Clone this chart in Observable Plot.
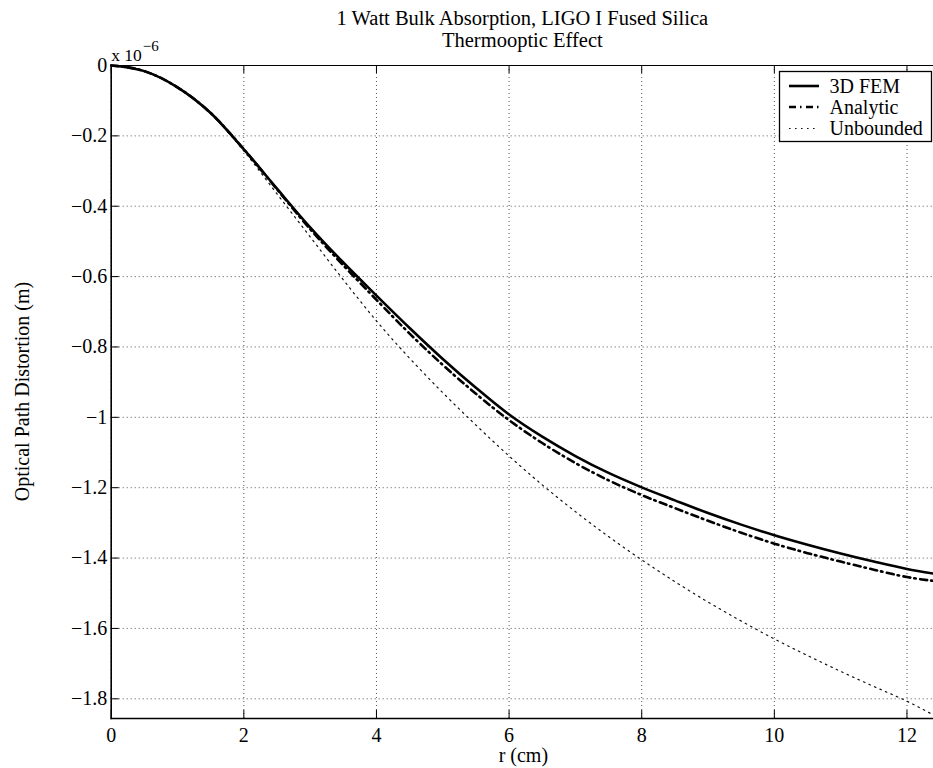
<!DOCTYPE html>
<html>
<head>
<meta charset="utf-8">
<script src="https://cdn.jsdelivr.net/npm/d3@7"></script>
<script src="https://cdn.jsdelivr.net/npm/@observablehq/plot@0.6"></script>
<style>
  html, body { margin: 0; padding: 0; background: #fff; }
  #chart { width: 933px; height: 768px; }
</style>
</head>
<body>
<div id="chart"></div>
<script>
// ---- data (values in units of 1e-6 m) ----
const rValues = [0, 0.5, 1, 1.5, 2, 2.5, 3, 3.5, 4, 4.5, 5, 5.5, 6, 6.5, 7, 7.5, 8, 8.5, 9, 9.5, 10, 10.5, 11, 11.5, 12, 12.4];
const femValues = [0, -0.016, -0.062, -0.135, -0.238, -0.350, -0.460, -0.560, -0.654, -0.746, -0.834, -0.916, -0.992, -1.055, -1.110, -1.158, -1.199, -1.236, -1.272, -1.305, -1.335, -1.362, -1.387, -1.410, -1.431, -1.444];
const analyticValues = [0, -0.016, -0.062, -0.135, -0.238, -0.352, -0.465, -0.568, -0.666, -0.762, -0.851, -0.933, -1.008, -1.073, -1.130, -1.179, -1.221, -1.258, -1.294, -1.328, -1.359, -1.386, -1.410, -1.433, -1.454, -1.465];
const unboundedValues = [0, -0.016, -0.062, -0.137, -0.243, -0.365, -0.487, -0.609, -0.726, -0.832, -0.930, -1.022, -1.110, -1.192, -1.268, -1.339, -1.405, -1.467, -1.525, -1.579, -1.630, -1.677, -1.722, -1.765, -1.807, -1.846];

const seriesNames = ["3D FEM", "Analytic", "Unbounded"];
const xTicks = [0, 2, 4, 6, 8, 10, 12];
const yTicks = [0, -0.2, -0.4, -0.6, -0.8, -1, -1.2, -1.4, -1.6, -1.8];
const xDomain = [0, 12.4];
const yDomain = [-1.856, 0];

const titleLines = ["1 Watt Bulk Absorption, LIGO I Fused Silica", "Thermooptic Effect"];
const xLabel = "r (cm)";
const yLabel = "Optical Path Distortion (m)";
const exponentBase = "x 10";
const exponentPower = "\u22126";

// ---- build tables ----
const fem = rValues.map((r, i) => ({r, v: femValues[i]}));
const analytic = rValues.map((r, i) => ({r, v: analyticValues[i]}));
const unbounded = rValues.map((r, i) => ({r, v: unboundedValues[i]}));

const FONT = "'Liberation Serif', 'Times New Roman', Times, serif";
const FS = 20;
const FS_TITLE = 20.5;

const styles = {
  "3D FEM":    {stroke: "#000", strokeWidth: 2.6, strokeDasharray: null},
  "Analytic":  {stroke: "#000", strokeWidth: 2.6, strokeDasharray: "7,4,1.5,4.5"},
  "Unbounded": {stroke: "#111", strokeWidth: 1.2, strokeDasharray: "1.6,4.4"}
};

const fmtY = d => d === 0 ? "0" : "\u2212" + (+Math.abs(d).toFixed(1));

const W = 933, H = 768;
const mL = 110.7, mR = 0, mT = 65, mB = 50;
const frameW = W - mL - mR, frameH = H - mT - mB;

function legend() {
  const g = d3.create("svg:g");
  const x0 = 779.5, y0 = 71.5, w = 152, h = 70;
  g.append("rect").attr("x", x0).attr("y", y0).attr("width", w).attr("height", h)
    .attr("fill", "#fff").attr("stroke", "#000").attr("stroke-width", 1.3);
  const rowY = [86, 107, 128.5];
  seriesNames.forEach((name, i) => {
    const s = styles[name];
    g.append("line").attr("x1", 789).attr("x2", 819).attr("y1", rowY[i]).attr("y2", rowY[i])
      .attr("stroke", s.stroke).attr("stroke-width", s.strokeWidth)
      .attr("stroke-dasharray", s.strokeDasharray);
    g.append("text").attr("x", 829.5).attr("y", rowY[i] + 6.5)
      .attr("text-anchor", "start")
      .attr("font-family", FONT).attr("font-size", FS).attr("fill", "#000").text(name);
  });
  return g.node();
}

function yAxisLabel() {
  const g = d3.create("svg:g");
  g.append("text")
    .attr("transform", `translate(29,${(mT + H - mB) / 2}) rotate(-90)`)
    .attr("text-anchor", "middle")
    .attr("font-family", FONT).attr("font-size", FS).attr("fill", "#000")
    .text(yLabel);
  return g.node();
}

const chart = Plot.plot({
  width: W,
  height: H,
  marginLeft: mL,
  marginRight: mR,
  marginTop: mT,
  marginBottom: mB,
  style: {fontFamily: FONT, fontSize: FS + "px", background: "#fff", color: "#000", overflow: "visible"},
  x: {domain: xDomain, axis: null},
  y: {domain: yDomain, axis: null},
  marks: [
    // dotted grid
    Plot.ruleX(xTicks, {x: d => d, stroke: "#555", strokeWidth: 1, strokeDasharray: "1,3"}),
    Plot.ruleY(yTicks, {y: d => d, stroke: "#555", strokeWidth: 1, strokeDasharray: "1,3"}),
    // curves
    Plot.line(unbounded, {x: "r", y: "v", curve: "monotone-x", ...styles["Unbounded"]}),
    Plot.line(analytic, {x: "r", y: "v", curve: "monotone-x", ...styles["Analytic"]}),
    Plot.line(fem, {x: "r", y: "v", curve: "monotone-x", ...styles["3D FEM"]}),
    // axes lines
    Plot.frame({anchor: "left", stroke: "#000", strokeWidth: 1.6}),
    Plot.frame({anchor: "bottom", stroke: "#000", strokeWidth: 1.3}),
    Plot.frame({anchor: "top", stroke: "#000", strokeWidth: 1.1}),
    // inward ticks
    Plot.tickX(xTicks, {x: d => d, insetTop: frameH - 8, stroke: "#000", strokeWidth: 1}),
    Plot.tickX(xTicks, {x: d => d, insetBottom: frameH - 8, stroke: "#000", strokeWidth: 1}),
    Plot.tickY(yTicks, {y: d => d, insetRight: frameW - 8, stroke: "#000", strokeWidth: 1}),
    // tick labels
    Plot.text(xTicks, {x: d => d, text: d => String(d), frameAnchor: "bottom", lineAnchor: "bottom", dy: 23, fontSize: FS, fill: "#000"}),
    Plot.text(yTicks, {y: d => d, text: fmtY, frameAnchor: "left", textAnchor: "end", lineAnchor: "middle", dx: -4, fontSize: FS, fill: "#000"}),
    // exponent
    Plot.text([exponentBase], {text: d => d, frameAnchor: "top-left", textAnchor: "start", lineAnchor: "bottom", dy: -5, dx: 0, fontSize: 17.5, fill: "#000"}),
    Plot.text([exponentPower], {text: d => d, frameAnchor: "top-left", textAnchor: "start", lineAnchor: "bottom", dy: -15, dx: 31.5, fontSize: 15, fill: "#000"}),
    // titles & labels
    Plot.text([titleLines[0]], {text: d => d, frameAnchor: "top", lineAnchor: "bottom", dy: -41, fontSize: FS_TITLE, fill: "#000"}),
    Plot.text([titleLines[1]], {text: d => d, frameAnchor: "top", lineAnchor: "bottom", dy: -19, fontSize: FS_TITLE, fill: "#000"}),
    Plot.text([xLabel], {text: d => d, frameAnchor: "bottom", lineAnchor: "bottom", dy: 43, dx: 1, fontSize: FS, fill: "#000"}),
    yAxisLabel,
    // legend
    legend
  ]
});

document.getElementById("chart").appendChild(chart);
</script>
</body>
</html>
